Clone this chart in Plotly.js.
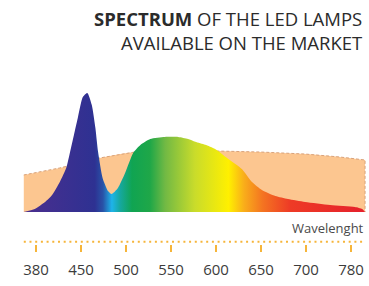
<!DOCTYPE html>
<html>
<head>
<meta charset="utf-8">
<script src="https://cdn.plot.ly/plotly-3.0.1.min.js"></script>
<style>html,body{margin:0;padding:0;background:#fff;}#chart{width:369px;height:286px;}</style>
</head>
<body>
<div id="chart"></div>
<script>
// Tick labels (wavelength, nm) - equally spaced on the axis
const tickWavelengths = [380, 450, 500, 550, 600, 650, 700, 780];
const tickLabels = ["380", "450", "500", "550", "600", "650", "700", "780"];

// LED lamp spectrum (relative intensity)
const specWl  = [361, 378, 394, 405, 417, 427, 433, 439, 445, 452, 457, 462, 466, 469, 474, 480, 484, 491, 499, 508, 516, 527, 543, 558, 569, 577, 588, 599, 613, 629, 640, 651, 666, 680, 699, 743, 787, 800, 805];
const specVal = [0, 0.025, 0.084, 0.143, 0.252, 0.37, 0.504, 0.647, 0.79, 0.966, 1.0, 0.899, 0.706, 0.504, 0.286, 0.176, 0.151, 0.202, 0.328, 0.496, 0.563, 0.613, 0.63, 0.63, 0.613, 0.59, 0.565, 0.53, 0.45, 0.36, 0.252, 0.185, 0.134, 0.109, 0.084, 0.059, 0.042, 0.025, 0];

// Background (sunlight-like) band
const bandWl  = [361, 417, 471, 510, 549, 599, 649, 699, 760, 805];
const bandVal = [0.311, 0.37, 0.454, 0.504, 0.521, 0.513, 0.504, 0.487, 0.462, 0.437];

// axis scale: wavelength -> equally spaced tick position
function pos(wl) {
  const t = tickWavelengths;
  let i = 0;
  if (wl <= t[0]) i = 0;
  else if (wl >= t[t.length - 1]) i = t.length - 2;
  else { while (wl > t[i + 1]) i++; }
  return i + (wl - t[i]) / (t[i + 1] - t[i]);
}
const tickPos = tickWavelengths.map(pos);
const specX = specWl.map(pos);
const bandX = bandWl.map(pos);

const orange = '#f6b53a';
const traces = [
  {
    x: bandX, y: bandVal, type: 'scatter', mode: 'lines',
    fill: 'tozeroy', fillcolor: '#fcc690',
    line: {width: 0, shape: 'spline', smoothing: 0.8},
    hoverinfo: 'skip', showlegend: false
  },
  {
    x: bandX.concat([bandX[bandX.length - 1]]),
    y: bandVal.concat([0]),
    type: 'scatter', mode: 'lines',
    line: {width: 1, color: '#d9a27a', dash: '3px,2px', shape: 'linear'},
    hoverinfo: 'skip', showlegend: false
  },
  {
    x: specX, y: specVal, type: 'scatter', mode: 'lines',
    fill: 'tozeroy',
    fillgradient: {
      type: 'horizontal',
      start: specX[0], stop: specX[specX.length - 1],
      colorscale: [
        [0.000, '#4b2e8e'],
        [0.208, '#2e3192'],
        [0.232, '#2853a8'],
        [0.258, '#1eb4ea'],
        [0.282, '#16a8a0'],
        [0.317, '#10a452'],
        [0.370, '#1fa748'],
        [0.414, '#71b944'],
        [0.501, '#c9dc2b'],
        [0.600, '#fff000'],
        [0.645, '#f9ae1a'],
        [0.700, '#f47421'],
        [0.780, '#ee3b26'],
        [1.000, '#e5202c']
      ]
    },
    line: {width: 0, shape: 'spline', smoothing: 0.6},
    hoverinfo: 'skip', showlegend: false
  }
];

const layout = {
  width: 369, height: 286,
  margin: {l: 0, r: 0, t: 80, b: 42, pad: 0},
  paper_bgcolor: '#ffffff', plot_bgcolor: '#ffffff',
  showlegend: false,
  font: {family: 'Open Sans, sans-serif', color: '#3c3c3c'},
  xaxis: {
    range: [-0.8, 7.4], showgrid: false, zeroline: false, showline: false,
    tickmode: 'array', tickvals: tickPos, ticktext: tickLabels,
    ticks: 'outside', ticklen: 7, tickwidth: 2, tickcolor: orange,
    tickfont: {size: 15, color: '#3c3c3c', family: 'Open Sans, sans-serif'},
    ticklabelstandoff: 5, fixedrange: true
  },
  yaxis: {
    range: [-0.269, 1.109], visible: false, fixedrange: true
  },
  shapes: [
    {type: 'line', xref: 'x', yref: 'y', x0: pos(361), x1: pos(804), y0: -0.25, y1: -0.25,
     line: {color: orange, width: 2.2, dash: '2px,3.7px'}}
  ],
  annotations: [
    {xref: 'paper', yref: 'paper', x: 364 / 369, y: 1.0 + (80 - 31) / 164, xanchor: 'right', yanchor: 'middle',
     align: 'right', showarrow: false,
     text: '<b>SPECTRUM</b> OF THE LED LAMPS<br>AVAILABLE ON THE MARKET',
     font: {size: 18.5, color: '#2b2b2b', family: 'Open Sans, sans-serif'}},
    {xref: 'paper', yref: 'y', x: 366 / 369, y: -0.134, xanchor: 'right', yanchor: 'middle',
     showarrow: false, text: 'Wavelenght',
     font: {size: 13, color: '#4a4a4a', family: 'Open Sans, sans-serif'}}
  ]
};

Plotly.newPlot('chart', traces, layout, {staticPlot: true, displayModeBar: false});
</script>
</body>
</html>
